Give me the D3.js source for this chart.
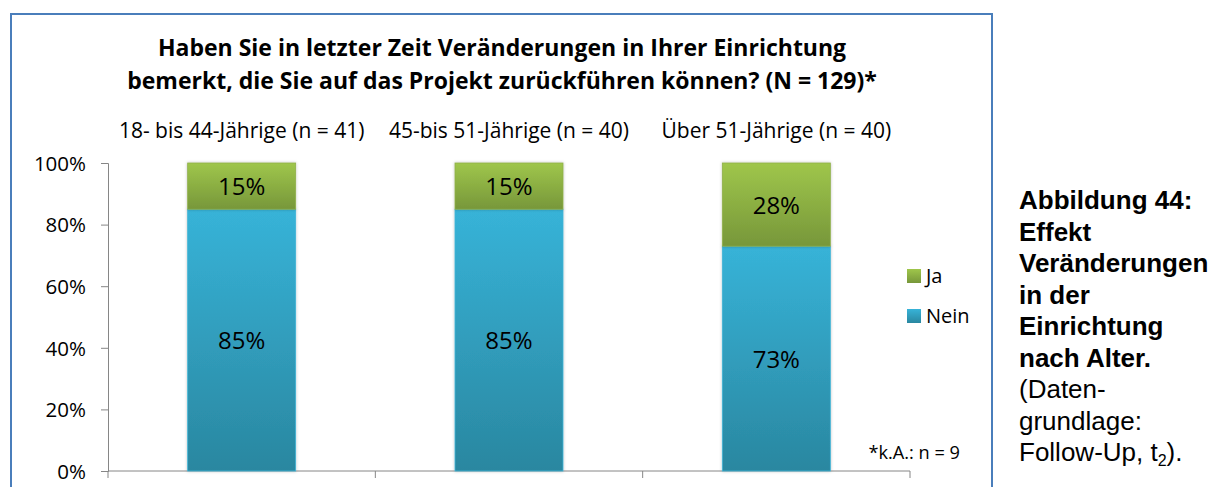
<!DOCTYPE html>
<html>
<head>
<meta charset="utf-8">
<script src="https://cdn.jsdelivr.net/npm/d3@7"></script>
<style>
  html, body { margin: 0; padding: 0; background: #fff; }
  svg { display: block; }
</style>
</head>
<body>
<svg id="chart" width="1216" height="487"></svg>
<script>
// Age groups and answer shares (fractions of each group)
const categories = ["18- bis 44-Jährige (n = 41)", "45-bis 51-Jährige (n = 40)", "Über 51-Jährige (n = 40)"];
const neinValues = [0.85, 0.85, 0.73];
const jaValues = [0.15, 0.15, 0.28];
const seriesNames = ["Ja", "Nein"];
const yTicks = [0, 0.2, 0.4, 0.6, 0.8, 1.0];
const titleLines = [
  "Haben Sie in letzter Zeit Veränderungen in Ihrer Einrichtung",
  "bemerkt, die Sie auf das Projekt zurückführen können? (N = 129)*"
];
const captionLines = [
  { t: "Abbildung 44:", b: true },
  { t: "Effekt", b: true },
  { t: "Veränderungen", b: true },
  { t: "in der", b: true },
  { t: "Einrichtung", b: true },
  { t: "nach Alter.", b: true },
  { t: "(Daten-", b: false },
  { t: "grundlage:", b: false },
  { t: "Follow-Up, t", b: false, sub: "2", tail: ")." }
];
const footnote = "*k.A.: n = 9";

const svg = d3.select("#chart");
const font = "'Open Sans', Lato, sans-serif";

// gradients
const defs = svg.append("defs");
function grad(id, top, bottom) {
  const g = defs.append("linearGradient").attr("id", id)
    .attr("x1", 0).attr("y1", 0).attr("x2", 0).attr("y2", 1);
  g.append("stop").attr("offset", "0%").attr("stop-color", top);
  g.append("stop").attr("offset", "100%").attr("stop-color", bottom);
}
grad("gJa", "#9fc64b", "#77973a");
grad("gNein", "#37b3d8", "#2a87a0");
const sh = defs.append("filter").attr("id", "shadow")
  .attr("x", "-10%").attr("y", "-10%").attr("width", "120%").attr("height", "120%");
sh.append("feDropShadow").attr("dx", 0).attr("dy", 0).attr("stdDeviation", 1.5)
  .attr("flood-color", "#000").attr("flood-opacity", 0.25);

// chart frame
svg.append("rect").attr("x", 11).attr("y", 14).attr("width", 981).attr("height", 500)
  .attr("fill", "none").attr("stroke", "#4a7ebb").attr("stroke-width", 2);

// title
svg.append("g").selectAll("text").data(titleLines).join("text")
  .attr("x", 502).attr("y", (d, i) => 56 + i * 33)
  .attr("text-anchor", "middle")
  .attr("font-family", font).attr("font-weight", "bold").attr("font-size", 23)
  .attr("fill", "#000")
  .text(d => d);

// scales
const x = d3.scaleBand().domain(categories).range([108, 910]).paddingInner(0).paddingOuter(0);
const y = d3.scaleLinear().domain([0, 1]).range([471, 163]);
const barW = 108;

// y axis
const yAxis = svg.append("g").attr("transform", "translate(108,0)")
  .call(d3.axisLeft(y).tickValues(yTicks).tickFormat(d3.format(".0%")).tickSize(7).tickPadding(15));
yAxis.select(".domain").attr("stroke", "#868686");
yAxis.selectAll(".tick line").attr("stroke", "#868686");
yAxis.selectAll(".tick text").attr("font-family", font).attr("font-size", 20.5).attr("fill", "#000")
  .attr("dy", "0.36em");

// x axis (category boundary ticks)
const xg = svg.append("g").attr("transform", "translate(0,471)");
xg.append("line").attr("x1", 108).attr("x2", 910).attr("stroke", "#868686");
const bounds = categories.map(c => x(c)).concat([x.range()[1]]);
xg.selectAll("line.tk").data(bounds).join("line").attr("class", "tk")
  .attr("x1", d => d).attr("x2", d => d).attr("y1", 0).attr("y2", 7).attr("stroke", "#868686");

// category labels above the plot
svg.append("g").selectAll("text").data(categories).join("text")
  .attr("x", d => x(d) + x.bandwidth() / 2).attr("y", 138)
  .attr("text-anchor", "middle")
  .attr("font-family", font).attr("font-size", 21).attr("fill", "#000")
  .text(d => d);

// stacked bars
const rows = categories.map((c, i) => ({ cat: c, Nein: neinValues[i], Ja: jaValues[i] }));
const stack = d3.stack().keys(["Nein", "Ja"])(rows);
const fills = { Nein: "url(#gNein)", Ja: "url(#gJa)" };
const edge = { Nein: "#3fb5d6", Ja: "#8fb04a" };

const bars = svg.append("g");
stack.forEach(layer => {
  const key = layer.key;
  bars.append("g").selectAll("rect").data(layer).join("rect")
    .attr("x", d => x(d.data.cat) + (x.bandwidth() - barW) / 2)
    .attr("width", barW)
    .attr("y", d => y(Math.min(d[1], 1)))
    .attr("height", d => y(d[0]) - y(Math.min(d[1], 1)))
    .attr("fill", fills[key])
    .attr("stroke", edge[key]).attr("stroke-width", 0.8)
    .attr("filter", "url(#shadow)");
});

// value labels
stack.forEach(layer => {
  svg.append("g").selectAll("text").data(layer).join("text")
    .attr("x", d => x(d.data.cat) + x.bandwidth() / 2)
    .attr("y", d => (y(d[0]) + y(Math.min(d[1], 1))) / 2 + 9)
    .attr("text-anchor", "middle")
    .attr("font-family", font).attr("font-size", 24).attr("fill", "#000")
    .text(d => d3.format(".0%")(d.data[layer.key]));
});

// legend
const leg = svg.append("g");
seriesNames.forEach((name, i) => {
  const gy = 269 + i * 40;
  leg.append("rect").attr("x", 907).attr("y", gy).attr("width", 14).attr("height", 14)
    .attr("fill", name === "Ja" ? "url(#gJa)" : "url(#gNein)");
  leg.append("text").attr("x", 926).attr("y", gy + 13.5)
    .attr("font-family", font).attr("font-size", 20).attr("fill", "#000").text(name);
});

// footnote
svg.append("text").attr("x", 960).attr("y", 459).attr("text-anchor", "end")
  .attr("font-family", font).attr("font-size", 18.2).attr("fill", "#000").text(footnote);

// figure caption to the right
const cap = svg.append("g");
captionLines.forEach((l, i) => {
  const t = cap.append("text").attr("x", 1019).attr("y", 209 + i * 31.5)
    .attr("font-family", "'Liberation Sans', Arial, sans-serif")
    .attr("font-size", 26).attr("font-weight", l.b ? "bold" : "normal").attr("fill", "#000");
  t.append("tspan").text(l.t);
  if (l.sub) {
    t.append("tspan").attr("font-size", 16).attr("dy", 5).text(l.sub);
    t.append("tspan").attr("dy", -5).text(l.tail);
  }
});
</script>
</body>
</html>
